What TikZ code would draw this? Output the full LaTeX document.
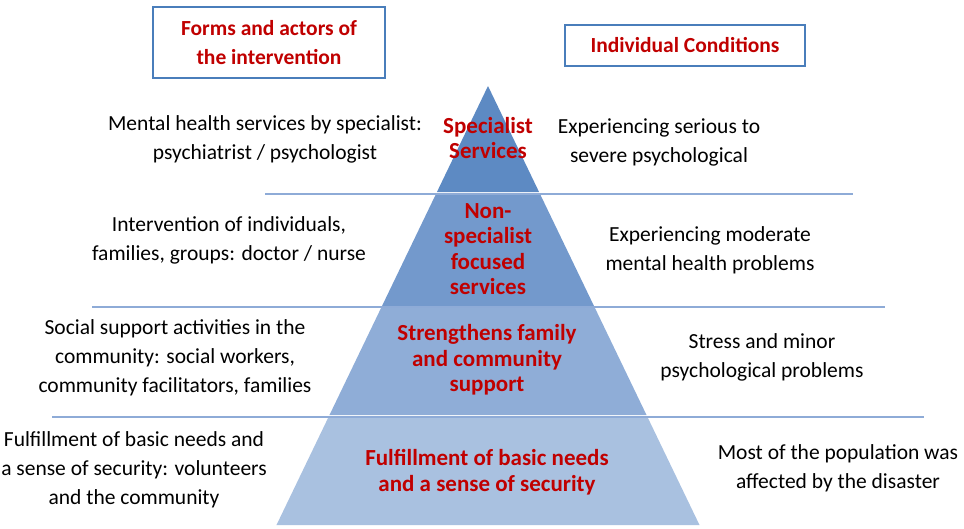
\documentclass[tikz,border=0pt]{standalone}
\usepackage{fontspec}
\setmainfont{Carlito}
\usepackage{tikz}

\definecolor{boxblue}{HTML}{4A7EBB}
\definecolor{titlered}{HTML}{C00000}
\definecolor{sepblue}{HTML}{8EABD7}
\definecolor{bandA}{HTML}{5D8AC3}
\definecolor{bandB}{HTML}{7399CC}
\definecolor{bandC}{HTML}{8FADD7}
\definecolor{bandD}{HTML}{A9C1E0}

\begin{document}
\begin{tikzpicture}[x=1pt, y=-1pt,
        every node/.style={align=center, inner sep=0pt,
                            font=\fontsize{21.5}{29}\selectfont},
        headbox/.style={draw=boxblue, line width=2.5pt, text=titlered,
                            font=\fontsize{21.5}{29}\selectfont\bfseries},
        level/.style={text=titlered,
                            font=\fontsize{23}{25.5}\selectfont\bfseries}]
    \useasboundingbox (0,0) rectangle (964,528);

    % pyramid bands: top/bottom row and colour
    \foreach \ta/\tb/\col in {86/192/bandA, 195/306/bandB,
            308/415/bandC, 418/525/bandD} {
            \fill[\col] ({488-0.4818*(\ta-86)},\ta) -- ({488+0.4818*(\ta-86)},\ta)
                -- ({488+0.4818*(\tb-86)},\tb) -- ({488-0.4818*(\tb-86)},\tb) -- cycle;
        }

    % separator lines
    \foreach \y/\xa/\xb in {193.5/265/853, 307/92/885, 416.5/52/924} {
            \draw[sepblue, line width=2pt] (\xa,\y) -- (\xb,\y);
        }

    \node[headbox, minimum width=232pt, minimum height=71pt] (H1) at (269,42.5)
        {Forms and actors of\\the intervention};
    \node[headbox, minimum width=240pt, minimum height=41pt] (H2) at (685,45.5)
        {Individual Conditions};

    \node[level] (P1) at (488,138) {Specialist\\Services};
    \node[level] (P2) at (488,249) {Non-\\specialist\\focused\\services};
    \node[level] (P3) at (487,360) {Strengthens family\\and community\\support};
    \node[level] (P4) at (487,472) {Fulfillment of basic needs\\and a sense of security};

    \node (L1) at (265,139) {Mental health services by specialist:\\psychiatrist / psychologist};
    \node (L2) at (229,240.5) {Intervention of individuals,\\families, groups: doctor / nurse};
    \node (L3) at (175,358) {Social support activities in the\\community: social workers,\\community facilitators, families};
    \node (L4) at (134,470) {Fulfillment of basic needs and\\a sense of security: volunteers\\and the community};

    \node (R1) at (659,142) {Experiencing serious to\\severe psychological};
    \node (R2) at (710,250) {Experiencing moderate\\mental health problems};
    \node (R3) at (762,357.5) {Stress and minor\\psychological problems};
    \node (R4) at (838,468) {Most of the population was\\affected by the disaster};
\end{tikzpicture}
\end{document}
